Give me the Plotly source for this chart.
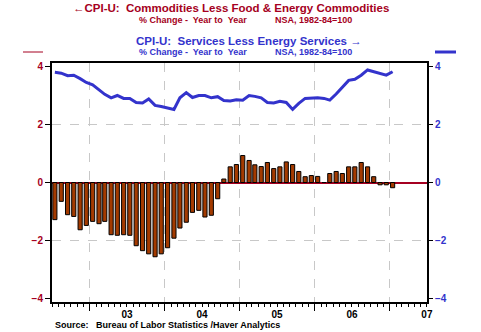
import pandas as pd
import plotly.graph_objects as go

# ---- data ----
months = pd.date_range("2002-07-01", "2007-01-01", freq="MS") + pd.Timedelta(days=14)

commodities = [
    -1.28, -0.65, -1.11, -1.17, -1.63, -1.48,
    -1.34, -1.42, -1.34, -1.80, -1.82, -1.80, -1.82, -2.18, -2.35, -2.46, -2.56, -2.46,
    -2.25, -1.92, -1.57, -1.37, -1.03, -0.96, -1.19, -1.13, -0.56, 0.12, 0.54, 0.62,
    0.93, 0.76, 0.61, 0.55, 0.69, 0.48, 0.54, 0.71, 0.62, 0.38, 0.20, 0.24,
    0.21, 0.0, 0.31, 0.38, 0.31, 0.54, 0.54, 0.69, 0.54, 0.20, -0.08, -0.08,
    -0.18,
]
services = [
    3.80, 3.77, 3.68, 3.70, 3.58, 3.45,
    3.37, 3.20, 3.04, 2.92, 3.00, 2.90, 2.90, 2.76, 2.74, 2.88, 2.66, 2.62,
    2.58, 2.52, 2.92, 3.10, 2.93, 3.00, 3.00, 2.92, 2.96, 2.83, 2.81, 2.85,
    2.84, 3.00, 2.97, 2.92, 2.76, 2.74, 2.80, 2.76, 2.52, 2.73, 2.90, 2.92,
    2.92, 2.90, 2.84, 3.05, 3.30, 3.52, 3.56, 3.70, 3.88, 3.82, 3.77, 3.70,
    3.82,
]
year_starts = ["2003-01-01", "2004-01-01", "2005-01-01", "2006-01-01", "2007-01-01"]
year_mids = ["2003-07-01", "2004-07-01", "2005-07-01", "2006-07-01", "2007-07-01"]
year_labels = ["03", "04", "05", "06", "07"]
y_ticks = [-4, -2, 0, 2, 4]

RED = "#a50021"
BLUE = "#3333cc"
BAR = "#a33a00"
FONT = "Liberation Sans"
X_RANGE = ["2002-07-01", "2007-07-01 12:00"]
Y_RANGE = [-4.12, 4.12]

fig = go.Figure()
fig.add_trace(go.Bar(
    x=months, y=commodities, xaxis="x", yaxis="y",
    marker=dict(color=BAR, line=dict(color="black", width=1)),
    showlegend=False,
))
fig.add_trace(go.Scatter(
    x=months, y=services, xaxis="x2", yaxis="y2", mode="lines",
    line=dict(color=BLUE, width=3), showlegend=False,
))

fig.update_layout(
    width=481, height=332,
    margin=dict(l=52, r=54, t=63, b=30),
    paper_bgcolor="white", plot_bgcolor="white",
    bargap=0.28,
    font=dict(family=FONT, size=10, color="black"),
    xaxis=dict(
        type="date", range=X_RANGE,
        tickvals=year_starts, showticklabels=False,
        ticks="outside", ticklen=7, tickwidth=1, tickcolor="black",
        showgrid=True, gridcolor="#c8c8c8", griddash="dash", gridwidth=1,
        showline=True, linecolor="black", linewidth=2, mirror=True,
        minor=dict(dtick="M1", tick0="2002-07-01", ticks="outside", ticklen=3,
                   tickcolor="black", showgrid=False),
        zeroline=False,
    ),
    xaxis2=dict(
        type="date", range=X_RANGE, overlaying="x", side="bottom",
        tickvals=year_mids, ticktext=year_labels, ticks="",
        ticklabelstandoff=5,
        tickfont=dict(family=FONT, size=10, color="black", weight="bold"),
        showgrid=False, showline=False, zeroline=False,
    ),
    yaxis=dict(
        range=Y_RANGE, tickvals=y_ticks,
        ticks="outside", ticklen=5, tickcolor="black",
        tickfont=dict(family=FONT, size=10, color=RED, weight="bold"),
        showgrid=False,
        minor=dict(tickvals=[-2, 2], showgrid=True, gridcolor="#c8c8c8",
                   griddash="dash", ticks=""),
        zeroline=True, zerolinecolor=RED, zerolinewidth=1.5,
        showline=True, linecolor="black", linewidth=2, mirror=True,
    ),
    yaxis2=dict(
        range=Y_RANGE, tickvals=y_ticks, overlaying="y", side="right", anchor="x2",
        ticks="outside", ticklen=5, tickcolor="black",
        tickfont=dict(family=FONT, size=10, color=BLUE, weight="bold"),
        showgrid=False, zeroline=False, showline=False,
    ),
)

# ---- titles / notes (pixel -> paper helpers) ----
L, R, T, B = 52, 427, 63, 302
def px(x):
    return (x - L) / (R - L)
def py(y):
    return (B - y) / (B - T)

def note(text, x, y, color, size, anchor="left"):
    fig.add_annotation(text=text, x=px(x), y=py(y), xref="paper", yref="paper",
                       xanchor=anchor, yanchor="middle", showarrow=False,
                       font=dict(family=FONT, size=size, color=color, weight="bold"))

note("←CPI-U:  Commodities Less Food & Energy Commodities", 231, 8, RED, 11.5, "center")
note("% Change -  Year to  Year", 137, 20, RED, 9)
note("NSA, 1982-84=100", 273, 20, RED, 9)
note("CPI-U:  Services Less Energy Services →", 249, 41, BLUE, 11.5, "center")
note("% Change -  Year to  Year", 137, 52, BLUE, 9)
note("NSA, 1982-84=100", 273, 52, BLUE, 9)
note("Source:   Bureau of Labor Statistics /Haver Analytics", 53, 325, "black", 9)

fig.add_shape(type="line", xref="paper", yref="paper",
              x0=px(23), x1=px(43), y0=py(52), y1=py(52),
              line=dict(color=RED, width=1))
fig.add_shape(type="line", xref="paper", yref="paper",
              x0=px(435), x1=px(456), y0=py(52), y1=py(52),
              line=dict(color=BLUE, width=3))

fig.write_html("out.html")
